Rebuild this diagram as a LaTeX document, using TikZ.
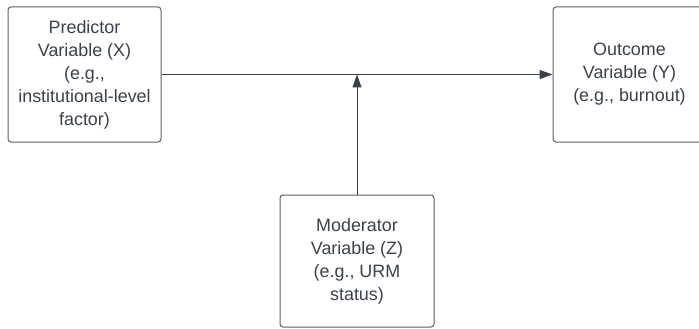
\documentclass[tikz,border=0pt]{standalone}
\usepackage{fontspec}
\setmainfont{Liberation Sans}
\usetikzlibrary{arrows.meta}
\definecolor{txt}{HTML}{3A414A}
\definecolor{bord}{HTML}{5E5E5E}
\begin{document}
\begin{tikzpicture}[x=1pt,y=-1pt,
  varbox/.style={draw=bord,line width=1pt,rounded corners=3pt,
    text=txt,align=center,inner sep=0pt,
    font={\fontsize{17.9}{23}\selectfont}},
  link/.style={draw=txt,line width=1pt,-{Triangle[length=13pt,width=9pt]}}]
\useasboundingbox (0,0) rectangle (699,329);
\node[varbox,minimum width=153pt,minimum height=135pt] (pred) at (84.5,74.5)
  {Predictor\\Variable (X)\\(e.g.,\\institutional-level\\factor)};
\node[varbox,minimum width=153pt,minimum height=135pt] (out) at (629.5,74.5)
  {Outcome\\Variable (Y)\\(e.g., burnout)};
\node[varbox,minimum width=154pt,minimum height=132pt] (mod) at (357,261)
  {Moderator\\Variable (Z)\\(e.g., URM\\status)};
\draw[link] (pred.east) -- (out.west);
\draw[link] (mod.north) -- (mod.north |- pred.east);
\end{tikzpicture}
\end{document}
